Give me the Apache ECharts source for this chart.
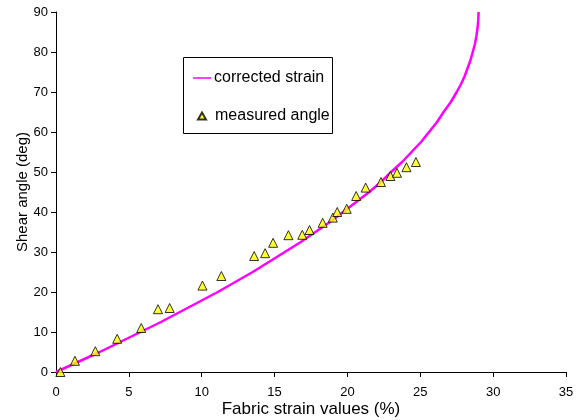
<!DOCTYPE html>
<html>
<head>
<meta charset="utf-8">
<script src="https://cdn.jsdelivr.net/npm/echarts@6/dist/echarts.min.js"></script>
<style>
  html, body { margin: 0; padding: 0; background: #fff; }
  #chart { width: 578px; height: 420px; }
</style>
</head>
<body>
<div id="chart"></div>
<script>
// corrected strain curve
const curveStrain = [0, 1.5, 3.0, 4.4, 5.8, 7.2, 8.5, 9.8, 11.1, 12.3, 13.5, 14.6, 15.7, 16.8, 17.8, 18.8, 19.7, 20.6, 21.5, 22.3, 23.0, 23.75, 24.4, 25.05, 25.6, 26.15, 26.6, 27.1, 27.5, 27.8, 28.05, 28.25, 28.45, 28.6, 28.75, 28.85, 28.93, 28.98, 29.0];
const curveAngle  = [0, 2.5, 5, 7.5, 10, 12.5, 15, 17.5, 20, 22.5, 25, 27.5, 30, 32.5, 35, 37.5, 40, 42.5, 45, 47.5, 50, 52.5, 55, 57.5, 60, 62.5, 65, 67.5, 70, 72, 74, 76, 78, 80, 82, 84, 86, 88, 90];

// measured angle points
const measStrain = [0.3, 1.3, 2.7, 4.2, 5.85, 7.0, 7.8, 10.05, 11.35, 13.6, 14.35, 14.9, 15.95, 16.9, 17.4, 18.3, 19.0, 19.3, 19.95, 20.6, 21.25, 22.3, 22.95, 23.4, 24.05, 24.7];
const measAngle  = [0, 2.8, 5.2, 8.3, 11, 15.7, 16, 21.6, 24, 29, 29.7, 32.3, 34.2, 34.3, 35.5, 37.3, 38.6, 40, 40.8, 44, 46.1, 47.5, 49, 49.8, 51.2, 52.5];

const chart = echarts.init(document.getElementById("chart"));
const font = "Liberation Sans, Arial, sans-serif";

const axisCommon = {
  type: "value",
  splitLine: { show: false },
  axisLine: { show: true, lineStyle: { color: "#000", width: 1 } },
  axisTick: { show: true, inside: false, length: 5, lineStyle: { color: "#000" } },
  axisLabel: { color: "#000", fontSize: 13, fontFamily: font },
  nameLocation: "middle",
  nameMoveOverlap: false,
};

const legendText = { color: "#000", fontSize: 16, fontFamily: font };

const option = {
  animation: false,
  grid: { left: 56, right: 12, top: 12, bottom: 48, outerBoundsMode: "none", containLabel: false },
  xAxis: Object.assign({}, axisCommon, {
    min: 0, max: 35, interval: 5,
    name: "Fabric strain values (%)",
    nameGap: 29,
    nameTextStyle: { color: "#000", fontSize: 17, fontFamily: font },
    axisLabel: Object.assign({}, axisCommon.axisLabel, { margin: 14 }),
  }),
  yAxis: Object.assign({}, axisCommon, {
    min: 0, max: 90, interval: 10,
    name: "Shear angle (deg)",
    nameGap: 26,
    nameTextStyle: { color: "#000", fontSize: 15, fontFamily: font },
    axisLabel: Object.assign({}, axisCommon.axisLabel, { margin: 8 }),
  }),
  // legend frame
  graphic: [
    {
      type: "rect",
      z: 3,
      shape: { x: 183.5, y: 57.5, width: 149, height: 76 },
      style: { fill: "#fff", stroke: "#000", lineWidth: 1 },
    },
  ],
  legend: [
    {
      left: 193,
      top: 70,
      padding: 0,
      icon: "rect",
      itemWidth: 18,
      itemHeight: 1.5,
      textStyle: Object.assign({ padding: [0, 0, 0, -2] }, legendText),
      data: ["corrected strain"],
    },
    {
      left: 197,
      top: 108,
      padding: 0,
      icon: "triangle",
      itemWidth: 8,
      itemHeight: 7,
      textStyle: Object.assign({ padding: [0, 0, 0, 4] }, legendText),
      data: ["measured angle"],
    },
  ],
  series: [
    {
      name: "corrected strain",
      type: "line",
      data: curveStrain.map((s, i) => [s, curveAngle[i]]),
      symbol: "none",
      lineStyle: { color: "#ff00ff", width: 2.5 },
      itemStyle: { color: "#ff00ff" },
    },
    {
      name: "measured angle",
      type: "scatter",
      data: measStrain.map((s, i) => [s, measAngle[i]]),
      symbol: "triangle",
      symbolSize: 9,
      itemStyle: { color: "#ffff00", borderColor: "#000", borderWidth: 1 },
      z: 3,
    },
  ],
};

chart.setOption(option);
window.addEventListener("resize", () => chart.resize());
</script>
</body>
</html>
